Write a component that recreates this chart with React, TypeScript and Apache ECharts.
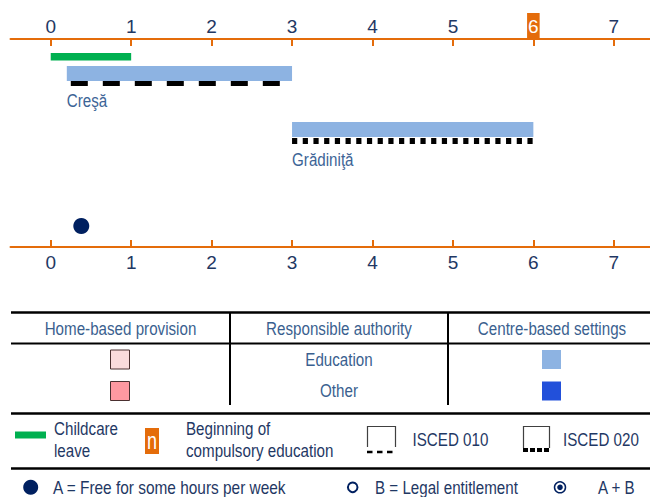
import React, { useEffect, useRef } from "react";
import * as echarts from "echarts";

// ---- data ----
const ageTicks = [0, 1, 2, 3, 4, 5, 6, 7];
const compulsoryAge = 6;
const childcareLeave = [0, 1];
const settingNames = ["Creşă", "Grădiniţă"];
const settingStart = [0.2, 3];
const settingEnd = [3, 6];
const settingIsced = ["010", "020"];
const freeHoursAges = [0.38];
const tableHeaders = ["Home-based provision", "Responsible authority", "Centre-based settings"];
const authorities = ["Education", "Other"];

// ---- styles ----
const ORANGE = "#E46C0A";
const NAVY = "#1F3864";
const STEEL = "#3A5F8F";
const LIGHTBLUE = "#8DB3E2";
const FONT = "'Liberation Sans', Arial, sans-serif";
const NARROW = 0.82;
const homeColors = ["#F9DADB", "#FF99A1"];
const centreColors = ["#8DB3E2", "#2250DA"];

export default function App() {
  const ref = useRef<HTMLDivElement>(null);
  useEffect(() => {
    if (!ref.current) return;
    const chart = echarts.init(ref.current, null, { renderer: "svg" });

    const axisCommon = {
      type: "value",
      min: -0.5,
      max: 7.45,
      splitLine: { show: false },
      axisLine: { show: true, onZero: false, lineStyle: { color: ORANGE, width: 2 } },
      axisTick: { show: true, inside: true, length: 7, customValues: ageTicks, lineStyle: { color: ORANGE, width: 2 } },
    };

    const rowTop = [27, 83];
    const labelOffset = [35, 38];

    const graphics: any[] = [];
    const hline = (y: number, lw: number) =>
      graphics.push({ type: "line", shape: { x1: 11, y1: y, x2: 650, y2: y }, style: { stroke: "#000", lineWidth: lw } });
    const vline = (x: number) =>
      graphics.push({ type: "line", shape: { x1: x, y1: 312, x2: x, y2: 405 }, style: { stroke: "#000", lineWidth: 2 } });
    const txt = (t: string, x: number, y: number, align: string, fill: string, size = 18.5, sx = NARROW) =>
      graphics.push({
        type: "text",
        x,
        y,
        scaleX: sx,
        style: { text: t, x: 0, y: 0, textAlign: align, verticalAlign: "middle", fill, fontSize: size, fontFamily: FONT },
      });

    hline(312.5, 2.5);
    hline(343.5, 2);
    hline(413.5, 2.5);
    hline(468.5, 2.5);
    vline(230);
    vline(448);
    const colX = [120.5, 339, 552];
    tableHeaders.forEach((h, i) => txt(h, colX[i], 329, "center", STEEL));
    const rowY = [359.5, 391];
    authorities.forEach((a, i) => {
      txt(a, colX[1], rowY[i], "center", STEEL);
      graphics.push({
        type: "rect",
        shape: { x: 110.5, y: rowY[i] - 9.5, width: 19, height: 19 },
        style: { fill: homeColors[i], stroke: "#4a3030", lineWidth: 1 },
      });
      graphics.push({
        type: "rect",
        shape: { x: 542, y: rowY[i] - 9.5, width: 19, height: 19 },
        style: { fill: centreColors[i] },
      });
    });

    // legend row 1
    graphics.push({ type: "rect", shape: { x: 15, y: 431.5, width: 31, height: 7 }, style: { fill: "#00B050" } });
    txt("Childcare", 54, 429, "left", NAVY);
    txt("leave", 54, 451, "left", NAVY);
    graphics.push({ type: "rect", shape: { x: 145, y: 428, width: 14, height: 26 }, style: { fill: ORANGE } });
    txt("n", 152, 441, "center", "#fff", 24, 0.75);
    txt("Beginning of", 186, 429, "left", NAVY);
    txt("compulsory education", 186, 451, "left", NAVY);

    graphics.push({
      type: "polyline",
      shape: { points: [[367.5, 447], [367.5, 426.5], [395.5, 426.5], [395.5, 447]] },
      style: { stroke: "#404040", lineWidth: 1.2, fill: null },
    });
    graphics.push({
      type: "line",
      shape: { x1: 367, y1: 452, x2: 395, y2: 452 },
      style: { stroke: "#000", lineWidth: 2.5, lineDash: [5.5, 4.5] },
    });
    txt("ISCED 010", 412.5, 439.5, "left", NAVY);
    graphics.push({
      type: "polyline",
      shape: { points: [[523.5, 448], [523.5, 426.5], [549.5, 426.5], [549.5, 448]] },
      style: { stroke: "#404040", lineWidth: 1.2, fill: null },
    });
    graphics.push({
      type: "line",
      shape: { x1: 523, y1: 450, x2: 550, y2: 450 },
      style: { stroke: "#000", lineWidth: 4, lineDash: [5, 2] },
    });
    txt("ISCED 020", 563, 439.5, "left", NAVY);

    // legend row 2
    graphics.push({ type: "circle", shape: { cx: 30.7, cy: 487.3, r: 7.5 }, style: { fill: "#002060" } });
    txt("A = Free for some hours per week", 53, 487.5, "left", NAVY, 18.8);
    graphics.push({
      type: "circle",
      shape: { cx: 352.7, cy: 487.3, r: 4.8 },
      style: { fill: "#fff", stroke: "#002060", lineWidth: 2 },
    });
    txt("B = Legal entitlement", 375, 487.5, "left", NAVY);
    graphics.push({
      type: "circle",
      shape: { cx: 560, cy: 487.3, r: 5.5 },
      style: { fill: "#fff", stroke: "#002060", lineWidth: 1.5 },
    });
    graphics.push({ type: "circle", shape: { cx: 560, cy: 487.3, r: 2.8 }, style: { fill: "#002060" } });
    txt("A + B", 598, 487.5, "left", NAVY);

    const option: any = {
      animation: false,
      backgroundColor: "#fff",
      grid: { left: 10.5, right: 0, top: 39, bottom: 250 },
      xAxis: [
        {
          ...axisCommon,
          position: "top",
          axisLabel: {
            customValues: ageTicks,
            margin: 0,
            formatter: (v: number) => (v === compulsoryAge ? `{hl|${v}}` : `{n|${v}}`),
            rich: {
              n: { fontSize: 19, color: NAVY, fontFamily: FONT, height: 26, lineHeight: 26 },
              hl: {
                fontSize: 19,
                color: "#fff",
                fontFamily: FONT,
                height: 26,
                lineHeight: 26,
                backgroundColor: ORANGE,
                padding: [0, 1],
              },
            },
          },
        },
        {
          ...axisCommon,
          position: "bottom",
          axisLabel: { customValues: ageTicks, margin: 4, fontSize: 19, color: NAVY, fontFamily: FONT, lineHeight: 22 },
        },
      ],
      yAxis: { type: "value", min: 0, max: 208, inverse: true, show: false },
      graphic: graphics,
      series: [
        {
          type: "custom",
          name: "Childcare leave",
          xAxisIndex: 0,
          data: [[childcareLeave[0], childcareLeave[1], 0]],
          renderItem: (params: any, api: any) => {
            const x0 = api.coord([api.value(0), 0])[0];
            const x1 = api.coord([api.value(1), 0])[0];
            const y = api.coord([0, 14])[1];
            return { type: "rect", shape: { x: x0, y, width: x1 - x0, height: 7.5 }, style: { fill: "#00B050" } };
          },
        },
        {
          type: "custom",
          name: "Settings",
          xAxisIndex: 0,
          data: settingStart.map((s, i) => [s, settingEnd[i], i]),
          renderItem: (params: any, api: any) => {
            const i = params.dataIndex;
            const x0 = api.coord([api.value(0), 0])[0];
            const x1 = api.coord([api.value(1), 0])[0];
            const top = api.coord([0, rowTop[i]])[1];
            const children: any[] = [
              { type: "rect", shape: { x: x0, y: top, width: x1 - x0, height: 15 }, style: { fill: LIGHTBLUE } },
            ];
            if (settingIsced[i] === "010") {
              children.push({
                type: "line",
                shape: { x1: x0 + 4, y1: top + 17.5, x2: x1, y2: top + 17.5 },
                style: { stroke: "#000", lineWidth: 5, lineDash: [17, 15] },
              });
            } else {
              children.push({
                type: "line",
                shape: { x1: x0, y1: top + 19, x2: x1, y2: top + 19 },
                style: { stroke: "#000", lineWidth: 6, lineDash: [5.2, 5.5] },
              });
            }
            children.push({
              type: "text",
              x: x0,
              y: top + labelOffset[i],
              scaleX: NARROW,
              style: {
                text: settingNames[i],
                x: 0,
                y: 0,
                verticalAlign: "middle",
                fill: "#3C6496",
                fontSize: 18.5,
                fontFamily: FONT,
              },
            });
            return { type: "group", children };
          },
        },
        {
          type: "scatter",
          name: "Free hours",
          xAxisIndex: 0,
          data: freeHoursAges.map((a) => [a, 187]),
          symbol: "circle",
          symbolSize: 16,
          itemStyle: { color: "#002060", opacity: 1 },
        },
      ],
    };
    chart.setOption(option);
    return () => chart.dispose();
  }, []);
  return <div ref={ref} style={{ position: "absolute", left: 0, top: 0, width: 650, height: 497, background: "#fff" }} />;
}
